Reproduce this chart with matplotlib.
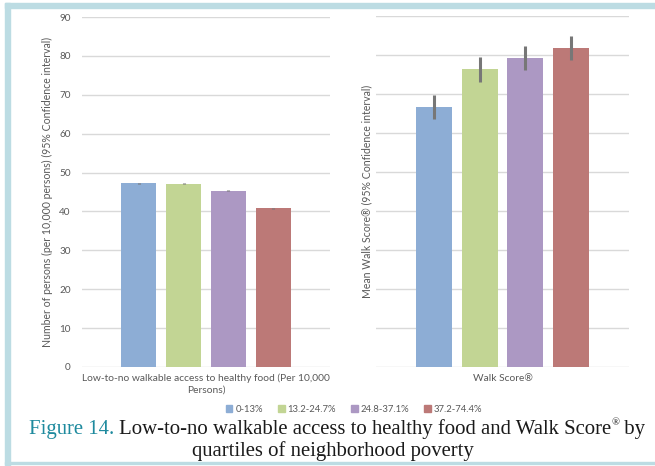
import matplotlib
matplotlib.use("Agg")
import matplotlib.pyplot as plt
from matplotlib.patches import Rectangle

# quartiles of neighborhood poverty
groups = ["0-13%", "13.2-24.7%", "24.8-37.1%", "37.2-74.4%"]
colors = ["#8DADD5", "#C2D594", "#AC98C3", "#BC7977"]

# left panel: persons per 10,000
food_vals = [47.2, 47.1, 45.3, 40.8]
food_err = [0.15, 0.15, 0.15, 0.15]
# right panel: mean Walk Score
walk_vals = [66.7, 76.3, 79.3, 81.7]
walk_err = [3.1, 3.1, 3.1, 3.1]

yticks = list(range(0, 100, 10))

W, H = 655, 466
fig = plt.figure(figsize=(W / 100, H / 100), dpi=100)
fig.patch.set_facecolor("white")

# light blue frame of the page
frame = "#BCDCE3"
fig.patches.append(Rectangle((5 / W, 0), 5 / W, 1 - 3 / H, transform=fig.transFigure, color=frame, zorder=0))
fig.patches.append(Rectangle((5 / W, 1 - 8 / H), 1, 5 / H, transform=fig.transFigure, color=frame, zorder=0))
fig.patches.append(Rectangle((5 / W, 2 / H), 1, 2 / H, transform=fig.transFigure, color=frame, zorder=0))

lab_font = "Lato"
txt_col = "#595959"


def panel(rect, vals, errs, xlabel, ylabel, show_ticks, ylab_x):
    x0, y0, x1, y1 = rect
    ax = fig.add_axes([x0 / W, 1 - y1 / H, (x1 - x0) / W, (y1 - y0) / H])
    step = 0.181
    pos = [(i - 1.5) * step for i in range(len(vals))]
    ax.bar(pos, vals, width=0.142, color=colors, zorder=2)
    ax.errorbar(pos, vals, yerr=errs, fmt="none", ecolor="#777777", elinewidth=2.2, capsize=0, zorder=3)
    ax.set_xlim(-0.5, 0.5)
    ax.set_ylim(0, 90)
    ax.set_yticks(yticks)
    ax.set_xticks([])
    ax.grid(axis="y", color="#D9D9D9", linewidth=1.0, zorder=0)
    for s in ax.spines.values():
        s.set_visible(False)
    ax.tick_params(axis="y", length=0, pad=8, labelsize=7.2, labelcolor=txt_col)
    for t in ax.get_yticklabels():
        t.set_fontfamily(lab_font)
    if not show_ticks:
        ax.set_yticklabels([])
    ax.set_xlabel(xlabel, fontsize=7.4, color=txt_col, family=lab_font, labelpad=5, linespacing=1.35)
    fig.text(ylab_x / W, 1 - (y0 + y1) / 2 / H, ylabel, rotation=90, ha="center", va="center",
             fontsize=7.6, color=txt_col, family=lab_font)
    return ax


panel((82, 17, 330, 367), food_vals, food_err,
      "Low-to-no walkable access to healthy food (Per 10,000\nPersons)",
      "Number of persons (per 10,000 persons) (95% Confidence interval)", True, 47)
panel((376, 16, 629, 367), walk_vals, walk_err,
      "Walk Score\u00ae", "Mean Walk Score\u00ae (95% Confidence interval)", False, 367)

# legend
handles = [Rectangle((0, 0), 1, 1, color=c) for c in colors]
fig.legend(handles, groups, loc="center", bbox_to_anchor=(354 / W, 1 - 409 / H), ncol=4, frameon=False,
           prop={"family": lab_font, "size": 6.8}, labelcolor=txt_col, handlelength=0.7, handleheight=0.7,
           handletextpad=0.3, columnspacing=1.6)

# caption, sized so the first line spans about 29..646 px
serif = "Liberation Serif"
cap_y1 = 1 - 428 / H
fs = 15.5
t1 = fig.text(29 / W, cap_y1, "Figure 14.", color="#1E8A9E", family=serif, fontsize=fs,
              ha="left", va="baseline")
t2 = fig.text(0, cap_y1, "Low-to-no walkable access to healthy food and Walk Score",
              color="#1a1a1a", family=serif, fontsize=fs, ha="left", va="baseline")
t3 = fig.text(0, cap_y1, "\u00ae", color="#1a1a1a", family=serif, fontsize=fs * 0.5,
              ha="left", va="baseline")
t4 = fig.text(0, cap_y1, " by", color="#1a1a1a", family=serif, fontsize=fs, ha="left", va="baseline")
fig.canvas.draw()
r = fig.canvas.get_renderer()
total = sum(t.get_window_extent(r).width for t in (t1, t2, t3, t4)) + 5
fs = fs * 617 / total
t1.set_fontsize(fs)
t2.set_fontsize(fs)
t3.set_fontsize(fs * 0.5)
t4.set_fontsize(fs)
fig.canvas.draw()
base = 1 - 434 / H
t1.set_y(base)
t2.set_y(base)
t4.set_y(base)
t3.set_y(base + fs * 0.4 / 72 * 100 / H)
x = t1.get_window_extent(r).x1 + 5
for t in (t2, t3, t4):
    t.set_x(x / W)
    fig.canvas.draw()
    x = t.get_window_extent(r).x1
fig.text(333 / W, 1 - 451 / H, "quartiles of neighborhood poverty", color="#1a1a1a",
         family=serif, fontsize=fs, ha="center", va="center")

fig.savefig("out.png", dpi=100)
